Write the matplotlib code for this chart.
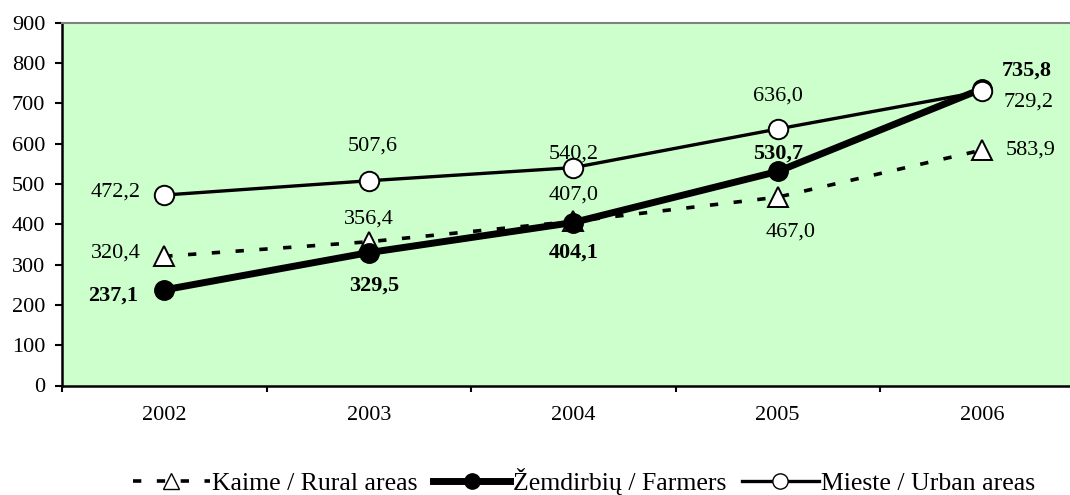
import matplotlib
matplotlib.use("Agg")
import matplotlib.pyplot as plt
from matplotlib.lines import Line2D

years = ["2002", "2003", "2004", "2005", "2006"]
rural = [320.4, 356.4, 407.0, 467.0, 583.9]
farmers = [237.1, 329.5, 404.1, 530.7, 735.8]
urban = [472.2, 507.6, 540.2, 636.0, 729.2]
yticks = [0, 100, 200, 300, 400, 500, 600, 700, 800, 900]

def fmt(v):
    return f"{v:.1f}".replace(".", ",")

plt.rcParams['font.family'] = ['Liberation Serif', 'DejaVu Serif']

fig = plt.figure(figsize=(10.7, 4.95), dpi=100)
# axes extends slightly beyond the right edge of the figure (cropped as in reference)
ax = fig.add_axes([62 / 1070, 1 - 385.5 / 495, 1022.5 / 1070, 363 / 495])
ax.set_facecolor("#ccffcc")

x = [i + 0.5 for i in range(len(years))]

rural_ls = (0, (2.3, 4.3))
ax.plot(x, rural, color="black", lw=2.6, ls=rural_ls, marker="^", ms=14,
        mfc="white", mec="black", mew=1.4, zorder=3)
ax.plot(x, farmers, color="black", lw=5, marker="o", ms=14,
        mfc="black", mec="black", zorder=4)
ax.plot(x, urban, color="black", lw=2.4, marker="o", ms=14,
        mfc="white", mec="black", mew=1.4, zorder=5)

fs = 16
rural_off = [(-35, 2), (0, 16), (0, 19), (9, -25), (35, 0)]
farm_off = [(-37, -4), (4, -24), (0, -22), (0, 13), (32, 13)]
urban_off = [(-35, 2), (3, 25), (0, 10), (0, 24), (33, -8)]
for xi, v, o in zip(x, rural, rural_off):
    ax.annotate(fmt(v), (xi, v), xytext=o, textcoords="offset points",
                ha="center", va="center", fontsize=fs, zorder=6)
for xi, v, o in zip(x, farmers, farm_off):
    ax.annotate(fmt(v), (xi, v), xytext=o, textcoords="offset points",
                ha="center", va="center", fontsize=fs, fontweight="bold", zorder=6)
for xi, v, o in zip(x, urban, urban_off):
    ax.annotate(fmt(v), (xi, v), xytext=o, textcoords="offset points",
                ha="center", va="center", fontsize=fs, zorder=6)

ax.set_xlim(0, len(years))
ax.set_ylim(0, 900)
ax.set_yticks(yticks)
ax.set_yticklabels([str(t) for t in yticks], fontsize=16)
ax.set_xticks(range(len(years) + 1))
ax.set_xticklabels([])
ax.set_xticks(x, minor=True)
ax.set_xticklabels(years, minor=True, fontsize=16)
ax.tick_params(axis="x", which="minor", length=0, pad=15)
ax.tick_params(axis="x", which="major", length=4.5, width=1.5, direction="out")
ax.tick_params(axis="y", length=5, width=1.5, direction="out", pad=7)
for s in ["left", "bottom"]:
    ax.spines[s].set_color("black")
    ax.spines[s].set_linewidth(1.8)
ax.spines["top"].set_color("#808080")
ax.spines["top"].set_linewidth(1.5)
ax.spines["right"].set_visible(False)

handles = [
    Line2D([], [], color="black", lw=2.6, ls=rural_ls, marker="^", ms=11,
           mfc="white", mec="black"),
    Line2D([], [], color="black", lw=5, marker="o", ms=11, mfc="black", mec="black"),
    Line2D([], [], color="black", lw=2.4, marker="o", ms=11, mfc="white", mec="black"),
]
labels = ["Kaime / Rural areas", "Žemdirbių / Farmers", "Mieste / Urban areas"]
fig.legend(handles, labels, loc="center", bbox_to_anchor=(0.546, 0.027), ncol=3,
           frameon=False, fontsize=18.5, handlelength=3.0, handletextpad=0.1,
           columnspacing=0.6, borderpad=0.1)

fig.savefig("out.png", dpi=100)
